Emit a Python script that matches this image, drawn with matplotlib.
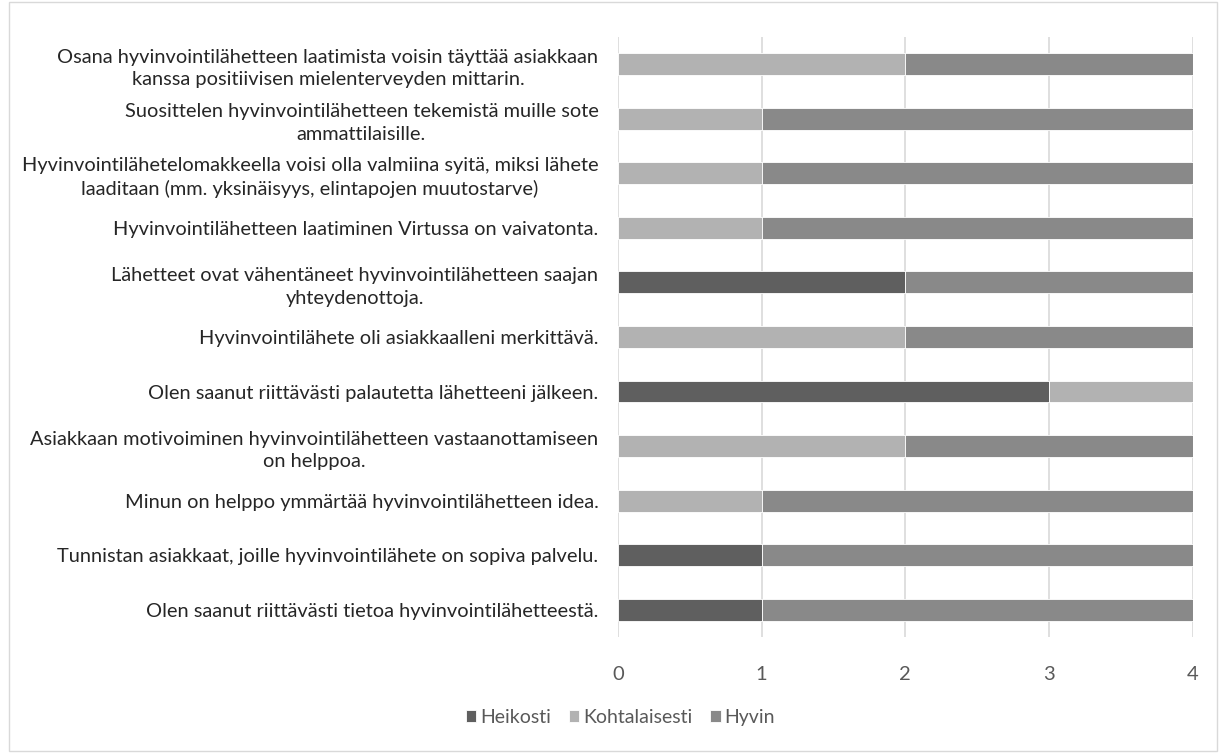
import numpy as np
import matplotlib.pyplot as plt
from matplotlib.patches import Rectangle

plt.rcParams['font.family'] = ['Lato', 'DejaVu Sans']

# väittämät alhaalta ylös (kuten kaaviossa)
kysymykset = [
    "Olen saanut riittävästi tietoa hyvinvointilähetteestä.",
    "Tunnistan asiakkaat, joille hyvinvointilähete on sopiva palvelu.",
    "Minun on helppo ymmärtää hyvinvointilähetteen idea.",
    "Asiakkaan motivoiminen hyvinvointilähetteen vastaanottamiseen\non helppoa.",
    "Olen saanut riittävästi palautetta lähetteeni jälkeen.",
    "Hyvinvointilähete oli asiakkaalleni merkittävä.",
    "Lähetteet ovat vähentäneet hyvinvointilähetteen saajan\nyhteydenottoja.",
    "Hyvinvointilähetteen laatiminen Virtussa on vaivatonta.",
    "Hyvinvointilähetelomakkeella voisi olla valmiina syitä, miksi lähete\nlaaditaan (mm. yksinäisyys, elintapojen muutostarve)",
    "Suosittelen hyvinvointilähetteen tekemistä muille sote\nammattilaisille.",
    "Osana hyvinvointilähetteen laatimista voisin täyttää asiakkaan\nkanssa positiivisen mielenterveyden mittarin.",
]
heikosti = [1, 1, 0, 0, 3, 0, 2, 0, 0, 0, 0]
kohtalaisesti = [0, 0, 1, 2, 1, 2, 0, 1, 1, 1, 2]
hyvin = [3, 3, 3, 2, 0, 2, 2, 3, 3, 3, 2]

sarjat = ["Heikosti", "Kohtalaisesti", "Hyvin"]
varit = ["#5f5f5f", "#b2b2b2", "#898989"]

fig = plt.figure(figsize=(12.21, 7.53), dpi=100)
ax = fig.add_axes([0.506, 0.154, 0.471, 0.797])

y = np.arange(len(kysymykset))
vasen = np.zeros(len(kysymykset))
for nimi, arvot, vari in zip(sarjat, [heikosti, kohtalaisesti, hyvin], varit):
    ax.barh(y, arvot, left=vasen, height=0.4, color=vari, label=nimi,
            edgecolor='white', linewidth=0.6, zorder=3)
    vasen += np.array(arvot)

ax.set_xlim(0, 4)
ax.set_ylim(-0.5, len(kysymykset) - 0.5)
ax.set_xticks([0, 1, 2, 3, 4])
ax.set_yticks(y)
ax.set_yticklabels(kysymykset, multialignment='center', fontsize=14.4,
                   color='#262626', linespacing=1.4)
ax.tick_params(axis='both', length=0)
ax.tick_params(axis='y', pad=14)
ax.tick_params(axis='x', pad=21, labelsize=14.5, labelcolor='#595959')
ax.grid(axis='x', color='#d9d9d9', linewidth=1.2, zorder=0)
for s in ax.spines.values():
    s.set_visible(False)

leg = fig.legend(loc='center', bbox_to_anchor=(0.508, 0.047), ncol=3, frameon=False,
                 fontsize=14, handlelength=0.55, handleheight=0.55, handletextpad=0.2,
                 columnspacing=0.9, labelcolor='#595959')

# kaavion kehys
fig.patches.append(Rectangle((0.007, 0.002), 0.99, 0.996, transform=fig.transFigure,
                             fill=False, edgecolor='#d9d9d9', linewidth=1))

fig.savefig('out.png', dpi=100)
